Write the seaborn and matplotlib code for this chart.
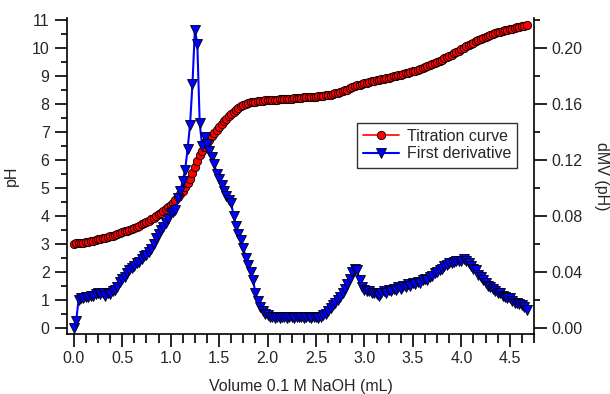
#!/usr/bin/env python3
"""Titration curve of a weak acid with 0.1 M NaOH and its first derivative."""

import matplotlib as mpl
import matplotlib.pyplot as plt
import pandas as pd
import seaborn as sns
from matplotlib.ticker import MultipleLocator, FormatStrFormatter

mpl.use("Agg")

# Volume of titrant added (mL)
VOLUME = [
    0.000, 0.025, 0.050, 0.075, 0.100, 0.125, 0.150, 0.175, 0.200, 0.225,
    0.250, 0.275, 0.300, 0.325, 0.350, 0.375, 0.400, 0.425, 0.450, 0.475,
    0.500, 0.525, 0.550, 0.575, 0.600, 0.625, 0.650, 0.675, 0.700, 0.725,
    0.750, 0.775, 0.800, 0.825, 0.850, 0.875, 0.900, 0.925, 0.950, 0.975,
    1.000, 1.025, 1.050, 1.075, 1.100, 1.125, 1.150, 1.175, 1.200, 1.225,
    1.250, 1.275, 1.300, 1.325, 1.350, 1.375, 1.400, 1.425, 1.450, 1.475,
    1.500, 1.525, 1.550, 1.575, 1.600, 1.625, 1.650, 1.675, 1.700, 1.725,
    1.750, 1.775, 1.800, 1.825, 1.850, 1.875, 1.900, 1.925, 1.950, 1.975,
    2.000, 2.025, 2.050, 2.075, 2.100, 2.125, 2.150, 2.175, 2.200, 2.225,
    2.250, 2.275, 2.300, 2.325, 2.350, 2.375, 2.400, 2.425, 2.450, 2.475,
    2.500, 2.525, 2.550, 2.575, 2.600, 2.625, 2.650, 2.675, 2.700, 2.725,
    2.750, 2.775, 2.800, 2.825, 2.850, 2.875, 2.900, 2.925, 2.950, 2.975,
    3.000, 3.025, 3.050, 3.075, 3.100, 3.125, 3.150, 3.175, 3.200, 3.225,
    3.250, 3.275, 3.300, 3.325, 3.350, 3.375, 3.400, 3.425, 3.450, 3.475,
    3.500, 3.525, 3.550, 3.575, 3.600, 3.625, 3.650, 3.675, 3.700, 3.725,
    3.750, 3.775, 3.800, 3.825, 3.850, 3.875, 3.900, 3.925, 3.950, 3.975,
    4.000, 4.025, 4.050, 4.075, 4.100, 4.125, 4.150, 4.175, 4.200, 4.225,
    4.250, 4.275, 4.300, 4.325, 4.350, 4.375, 4.400, 4.425, 4.450, 4.475,
    4.500, 4.525, 4.550, 4.575, 4.600, 4.625, 4.650, 4.675,
]

# Measured pH
PH = [
    3.00, 3.01, 3.02, 3.03, 3.04, 3.06, 3.07, 3.09, 3.11, 3.13,
    3.16, 3.18, 3.20, 3.22, 3.24, 3.27, 3.29, 3.32, 3.35, 3.38,
    3.41, 3.44, 3.47, 3.50, 3.54, 3.57, 3.61, 3.65, 3.69, 3.73,
    3.78, 3.83, 3.88, 3.93, 3.99, 4.05, 4.11, 4.17, 4.24, 4.31,
    4.39, 4.47, 4.56, 4.66, 4.77, 4.89, 5.02, 5.17, 5.33, 5.52,
    5.74, 5.97, 6.17, 6.33, 6.47, 6.60, 6.72, 6.84, 6.96, 7.07,
    7.17, 7.27, 7.37, 7.46, 7.55, 7.63, 7.71, 7.78, 7.85, 7.91,
    7.96, 8.00, 8.03, 8.05, 8.07, 8.08, 8.09, 8.10, 8.11, 8.12,
    8.13, 8.13, 8.14, 8.15, 8.15, 8.16, 8.17, 8.17, 8.18, 8.19,
    8.19, 8.20, 8.21, 8.21, 8.22, 8.23, 8.23, 8.24, 8.25, 8.26,
    8.26, 8.27, 8.28, 8.29, 8.30, 8.32, 8.33, 8.35, 8.37, 8.39,
    8.42, 8.45, 8.48, 8.51, 8.55, 8.59, 8.63, 8.66, 8.69, 8.71,
    8.74, 8.76, 8.78, 8.80, 8.82, 8.84, 8.86, 8.88, 8.90, 8.92,
    8.94, 8.96, 8.98, 9.00, 9.02, 9.04, 9.06, 9.09, 9.11, 9.14,
    9.16, 9.19, 9.22, 9.25, 9.28, 9.31, 9.34, 9.38, 9.42, 9.46,
    9.50, 9.54, 9.58, 9.62, 9.67, 9.71, 9.75, 9.80, 9.85, 9.90,
    9.95, 10.00, 10.05, 10.10, 10.14, 10.19, 10.23, 10.27, 10.31, 10.35,
    10.39, 10.42, 10.46, 10.49, 10.52, 10.55, 10.58, 10.60, 10.63, 10.65,
    10.67, 10.69, 10.71, 10.73, 10.75, 10.77, 10.79, 10.81,
]

# First derivative dMV (pH)
DERIV = [
    0.000, 0.005, 0.020, 0.021, 0.021, 0.022, 0.022, 0.023, 0.023, 0.024,
    0.025, 0.024, 0.025, 0.023, 0.025, 0.024, 0.026, 0.027, 0.029, 0.033,
    0.035, 0.036, 0.039, 0.041, 0.043, 0.044, 0.046, 0.047, 0.049, 0.051,
    0.052, 0.054, 0.056, 0.060, 0.064, 0.067, 0.070, 0.072, 0.075, 0.078,
    0.082, 0.083, 0.084, 0.093, 0.098, 0.105, 0.113, 0.128, 0.145, 0.174,
    0.213, 0.203, 0.146, 0.130, 0.136, 0.131, 0.126, 0.122, 0.117, 0.110,
    0.106, 0.102, 0.098, 0.094, 0.091, 0.089, 0.080, 0.073, 0.067, 0.063,
    0.057, 0.050, 0.045, 0.040, 0.034, 0.025, 0.019, 0.015, 0.012, 0.010,
    0.009, 0.008, 0.008, 0.007, 0.008, 0.007, 0.008, 0.008, 0.007, 0.008,
    0.008, 0.007, 0.008, 0.008, 0.008, 0.007, 0.008, 0.008, 0.007, 0.008,
    0.008, 0.007, 0.008, 0.009, 0.010, 0.012, 0.014, 0.016, 0.018, 0.020,
    0.022, 0.025, 0.028, 0.031, 0.035, 0.040, 0.042, 0.041, 0.034, 0.029,
    0.027, 0.026, 0.026, 0.025, 0.025, 0.024, 0.023, 0.025, 0.026, 0.025,
    0.027, 0.026, 0.028, 0.027, 0.029, 0.028, 0.030, 0.029, 0.031, 0.030,
    0.032, 0.031, 0.033, 0.032, 0.034, 0.035, 0.034, 0.036, 0.037, 0.039,
    0.040, 0.041, 0.042, 0.044, 0.045, 0.046, 0.046, 0.047, 0.048, 0.048,
    0.048, 0.049, 0.048, 0.046, 0.044, 0.042, 0.041, 0.038, 0.036, 0.034,
    0.032, 0.030, 0.029, 0.028, 0.026, 0.025, 0.025, 0.023, 0.022, 0.021,
    0.021, 0.019, 0.018, 0.018, 0.017, 0.016, 0.015, 0.013,
]

sns.set_style("ticks")
plt.rcParams["font.family"] = ["Liberation Sans", "DejaVu Sans"]
plt.rcParams["font.size"] = 11.5

FS = 11.5


def style_axis(ax, which, major_len, minor_len):
    ax.tick_params(axis=which, which="major", direction="out",
                   length=major_len, width=1.2, labelsize=FS, color="black")
    ax.tick_params(axis=which, which="minor", direction="out",
                   length=minor_len, width=1.2, color="black")


def main():
    df = pd.DataFrame({"volume": VOLUME, "ph": PH, "deriv": DERIV})

    fig = plt.figure(figsize=(6.10, 3.94), dpi=100)
    ax = fig.add_axes([0.1098, 0.1523, 0.7656, 0.8008])
    ax2 = ax.twinx()

    sns.lineplot(data=df, x="volume", y="ph", ax=ax, color="red",
                 marker="o", markersize=6, markeredgecolor="black",
                 markeredgewidth=0.6, linewidth=1.2, legend=False)
    sns.lineplot(data=df, x="volume", y="deriv", ax=ax2, color="blue",
                 marker="v", markersize=7, markeredgecolor="black",
                 markeredgewidth=0.6, linewidth=1.5, legend=False)

    ax.set_xlim(-0.07, 4.75)
    ax.set_ylim(-0.225, 11.05)
    ax2.set_ylim(-0.225 * 0.02, 11.05 * 0.02)

    ax.xaxis.set_major_locator(MultipleLocator(0.5))
    ax.xaxis.set_minor_locator(MultipleLocator(0.125))
    ax.xaxis.set_major_formatter(FormatStrFormatter("%.1f"))
    ax.yaxis.set_major_locator(MultipleLocator(1))
    ax.yaxis.set_minor_locator(MultipleLocator(0.5))
    ax2.yaxis.set_major_locator(MultipleLocator(0.04))
    ax2.yaxis.set_minor_locator(MultipleLocator(0.02))
    ax2.yaxis.set_major_formatter(FormatStrFormatter("%.2f"))

    style_axis(ax, "x", 9, 6.5)
    style_axis(ax, "y", 9, 4.5)
    style_axis(ax2, "y", 9, 4.5)

    for name in ["top", "right"]:
        ax.spines[name].set_visible(False)
    for name in ["top", "left", "bottom"]:
        ax2.spines[name].set_visible(False)
    for sp in [ax.spines["left"], ax.spines["bottom"], ax2.spines["right"]]:
        sp.set_linewidth(1.2)
        sp.set_color("black")

    ax.set_xlabel("Volume 0.1 M NaOH (mL)", fontsize=FS, labelpad=9)
    ax.set_ylabel("pH", fontsize=FS, ha="center", va="center")
    ax.yaxis.set_label_coords(-0.118, 0.5)
    ax2.set_ylabel("dMV (pH)", fontsize=FS, rotation=-90,
                   ha="center", va="center")
    ax2.yaxis.set_label_coords(1.145, 0.5)

    h1 = ax.get_lines()[0]
    h2 = ax2.get_lines()[0]
    leg = ax2.legend([h1, h2], ["Titration curve", "First derivative"],
                     loc="upper left", bbox_to_anchor=(0.621, 0.67),
                     frameon=True, fancybox=False, fontsize=FS,
                     handlelength=2.2, handletextpad=0.5, borderpad=0.4,
                     labelspacing=0.15, borderaxespad=0)
    leg.get_frame().set_edgecolor("black")
    leg.get_frame().set_linewidth(1.0)

    fig.savefig("out.png", dpi=100)


if __name__ == "__main__":
    main()
